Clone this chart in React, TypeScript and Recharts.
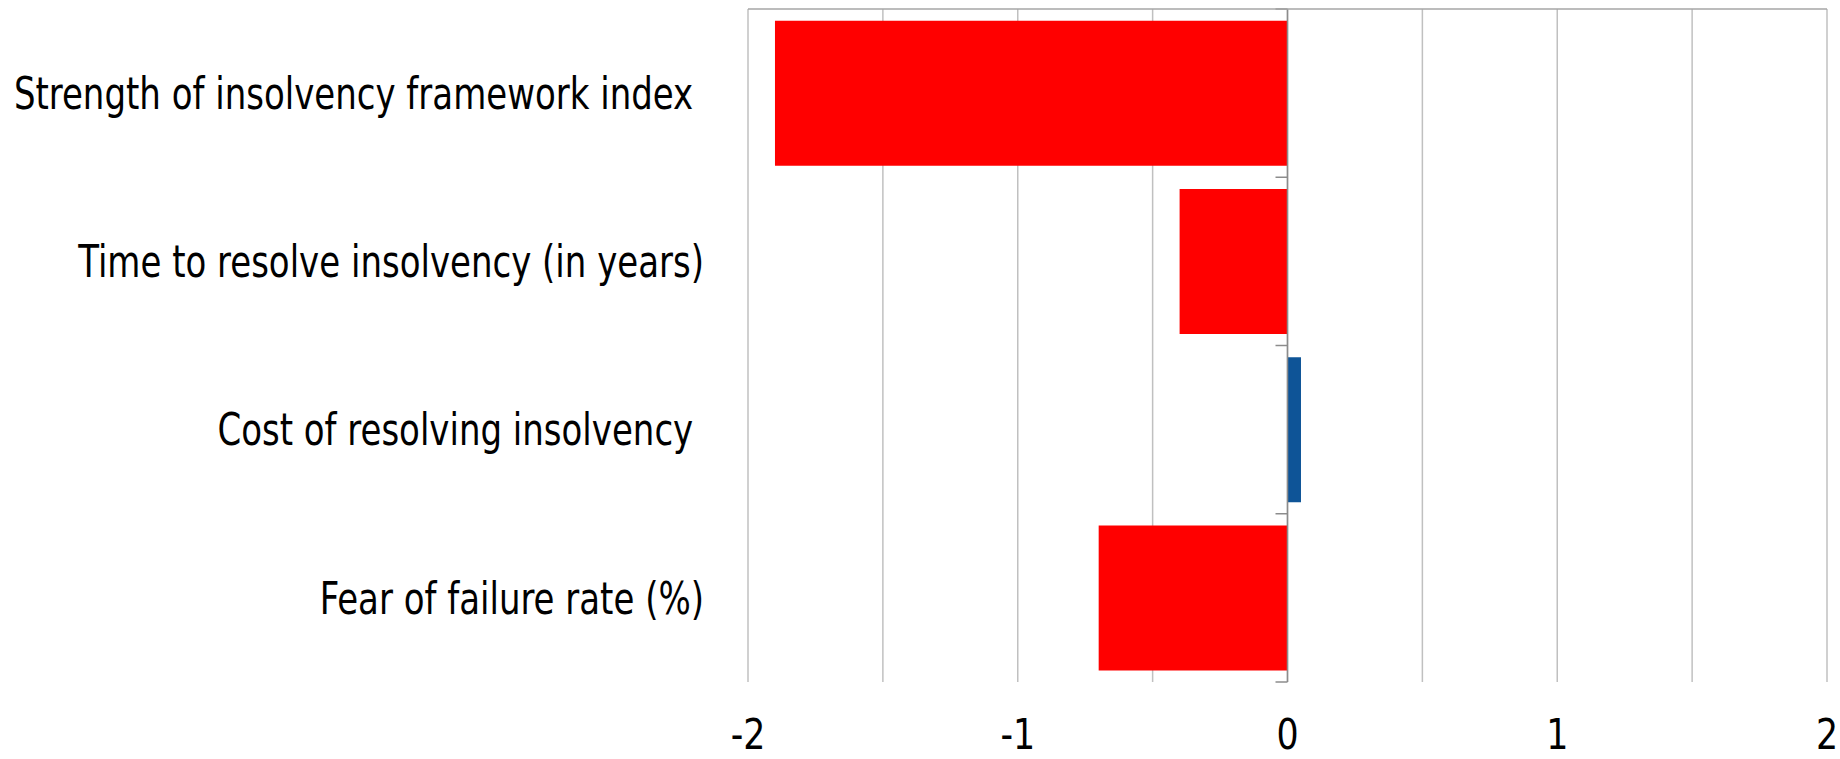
import React from 'react'
import { BarChart, Bar, XAxis, YAxis, CartesianGrid, ReferenceLine, Cell } from 'recharts'

const categories = [
  'Strength of insolvency framework index ',
  'Time to resolve insolvency (in years)',
  'Cost of resolving insolvency ',
  'Fear of failure rate (%)',
]
const values = [-1.9, -0.4, 0.05, -0.7]
const gridTicks = [-2, -1.5, -1, -0.5, 0, 0.5, 1, 1.5, 2]
const labelTicks = [-2, -1, 0, 1, 2]

const FONT = "'DejaVu Sans Condensed', 'DejaVu Sans', sans-serif"

const data = categories.map((name, i) => ({ name, value: values[i] }))

// labels in the original use a condensed face, so squeeze the glyphs horizontally
function CategoryTick({ x, y, payload }: any) {
  return (
    <g transform={`translate(${x},${y})`}>
      <text
        transform="scale(0.84,1)"
        textAnchor="end"
        dominantBaseline="central"
        fill="#000"
        fontSize={45}
        fontFamily={FONT}
        style={{ whiteSpace: 'pre' }}
      >
        {payload.value}
      </text>
    </g>
  )
}

// only the whole numbers get a label, the half steps are just grid lines
function ValueTick({ x, y, payload }: any) {
  if (!Number.isInteger(payload.value)) return <g />
  return (
    <g transform={`translate(${x},${y})`}>
      <text transform="scale(0.9,1)" textAnchor="middle" fill="#000" fontSize={43} fontFamily={FONT}>
        {String(payload.value)}
      </text>
    </g>
  )
}

// zero axis with the category boundary tick marks pointing left
function ZeroAxis(props: any) {
  const { x1, y1, y2 } = props
  const top = Math.min(y1, y2)
  const bottom = Math.max(y1, y2)
  const step = (bottom - top) / categories.length
  return (
    <g>
      <line x1={x1} y1={top} x2={x1} y2={bottom} stroke="#8c8c8c" strokeWidth={1.5} />
      {categories.concat(['']).map((_, i) => (
        <line key={i} x1={x1 - 12} y1={top + step * i} x2={x1} y2={top + step * i} stroke="#8c8c8c" strokeWidth={1.5} />
      ))}
    </g>
  )
}

export default function App() {
  return (
    <div style={{ position: 'absolute', left: 0, top: 0, background: '#fff' }}>
      <BarChart
        width={1840}
        height={759}
        data={data}
        layout="vertical"
        margin={{ top: 9, right: 13, bottom: 0, left: 0 }}
        barCategoryGap="7%"
      >
        <CartesianGrid horizontal={false} stroke="#c0c0c0" strokeWidth={1.5} />
        <XAxis
          type="number"
          domain={[-2, 2]}
          ticks={gridTicks}
          axisLine={false}
          tickLine={false}
          tickSize={0}
          tickMargin={67}
          height={77}
          tick={<ValueTick />}
          interval={0}
        />
        <XAxis
          xAxisId="top"
          orientation="top"
          type="number"
          domain={[-2, 2]}
          ticks={labelTicks}
          height={1}
          mirror
          tickSize={12}
          tick={false}
          axisLine={{ stroke: '#a6a6a6', strokeWidth: 1.5 }}
          tickLine={{ stroke: '#808080', strokeWidth: 1.5 }}
        />
        <YAxis
          type="category"
          dataKey="name"
          width={748}
          axisLine={false}
          tickLine={false}
          tickSize={0}
          tickMargin={44}
          tick={<CategoryTick />}
        />
        <Bar dataKey="value" isAnimationActive={false}>
          {data.map((d) => (
            <Cell key={d.name} fill={d.value < 0 ? '#ff0000' : '#0e5497'} />
          ))}
        </Bar>
        <ReferenceLine x={0} stroke="#8c8c8c" shape={<ZeroAxis />} />
      </BarChart>
    </div>
  )
}
